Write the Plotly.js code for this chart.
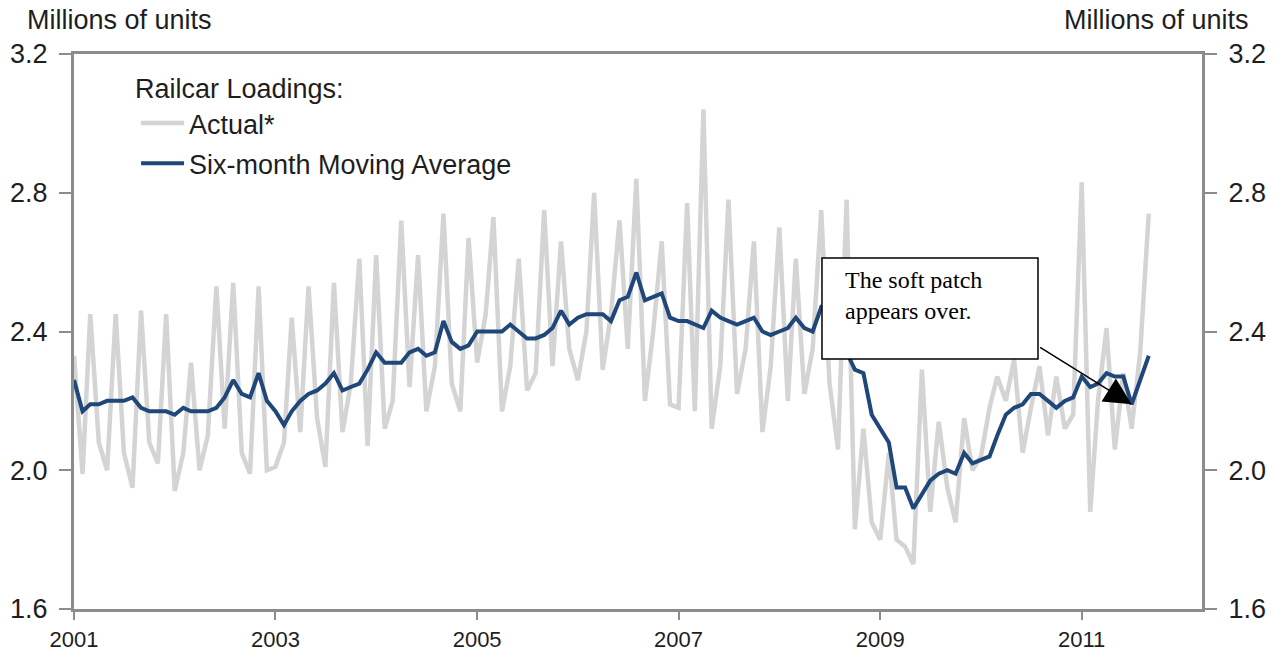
<!DOCTYPE html>
<html>
<head>
<meta charset="utf-8">
<script src="https://cdn.plot.ly/plotly-3.0.1.min.js"></script>
<style>
html,body{margin:0;padding:0;background:#fff;}
#chart{width:1275px;height:655px;}
</style>
</head>
<body>
<div id="chart"></div>
<script>
// Monthly observations, January 2001 onward
const startYear = 2001;
const actual = [
  2.33, 1.99, 2.45, 2.08, 2.00, 2.45, 2.05, 1.95, 2.46, 2.08, 2.02, 2.45,
  1.94, 2.05, 2.31, 2.00, 2.10, 2.53, 2.12, 2.54, 2.05, 1.99, 2.53, 2.00,
  2.01, 2.08, 2.44, 2.11, 2.53, 2.15, 2.01, 2.54, 2.11, 2.25, 2.61, 2.07,
  2.62, 2.12, 2.20, 2.72, 2.24, 2.62, 2.17, 2.30, 2.74, 2.25, 2.17, 2.67,
  2.31, 2.45, 2.73, 2.17, 2.30, 2.61, 2.23, 2.28, 2.75, 2.30, 2.66, 2.35,
  2.26, 2.40, 2.80, 2.29, 2.45, 2.72, 2.35, 2.84, 2.20, 2.40, 2.66, 2.19,
  2.18, 2.77, 2.17, 3.04, 2.12, 2.30, 2.78, 2.22, 2.35, 2.66, 2.11, 2.30,
  2.70, 2.20, 2.61, 2.22, 2.35, 2.75, 2.25, 2.06, 2.78, 1.83, 2.12, 1.85,
  1.80, 2.05, 1.80, 1.78, 1.73, 2.29, 1.88, 2.14, 1.95, 1.85, 2.15, 2.00,
  2.04, 2.18, 2.27, 2.20, 2.32, 2.05, 2.18, 2.30, 2.10, 2.27, 2.12, 2.16,
  2.83, 1.88, 2.20, 2.41, 2.06, 2.28, 2.12, 2.34, 2.74
];
const movingAvg = [
  2.26, 2.17, 2.19, 2.19, 2.20, 2.20, 2.20, 2.21, 2.18, 2.17, 2.17, 2.17,
  2.16, 2.18, 2.17, 2.17, 2.17, 2.18, 2.21, 2.26, 2.22, 2.21, 2.28, 2.20,
  2.17, 2.13, 2.17, 2.20, 2.22, 2.23, 2.25, 2.28, 2.23, 2.24, 2.25, 2.29,
  2.34, 2.31, 2.31, 2.31, 2.34, 2.35, 2.33, 2.34, 2.43, 2.37, 2.35, 2.36,
  2.40, 2.40, 2.40, 2.40, 2.42, 2.40, 2.38, 2.38, 2.39, 2.41, 2.46, 2.42,
  2.44, 2.45, 2.45, 2.45, 2.43, 2.49, 2.50, 2.57, 2.49, 2.50, 2.51, 2.44,
  2.43, 2.43, 2.42, 2.41, 2.46, 2.44, 2.43, 2.42, 2.43, 2.44, 2.40, 2.39,
  2.40, 2.41, 2.44, 2.41, 2.40, 2.47, 2.46, 2.42, 2.34, 2.29, 2.28, 2.16,
  2.12, 2.08, 1.95, 1.95, 1.89, 1.93, 1.97, 1.99, 2.00, 1.99, 2.05, 2.02,
  2.03, 2.04, 2.10, 2.16, 2.18, 2.19, 2.22, 2.22, 2.20, 2.18, 2.20, 2.21,
  2.27, 2.24, 2.25, 2.28, 2.27, 2.27, 2.19, 2.26, 2.33
];
const yTicks = [1.6, 2.0, 2.4, 2.8, 3.2];
const seriesNames = ['Actual*', 'Six-month Moving Average'];
const legendTitle = 'Railcar Loadings:';
const unitLabel = 'Millions of units';
const noteText = 'The soft patch<br>appears over.';
const noteIndex = 126; // month the arrow points at

const dates = actual.map((_, i) => {
  const y = startYear + Math.floor(i / 12);
  const m = (i % 12) + 1;
  return y + '-' + String(m).padStart(2, '0') + '-01';
});

const sans = 'Liberation Sans, Arial, sans-serif';
const serif = 'Liberation Serif, Times New Roman, serif';
const axisGray = '#8c8c8c';
const textCol = '#1e1e1e';

const traces = [
  {x: dates, y: actual, name: seriesNames[0], type: 'scatter', mode: 'lines',
   line: {color: '#d4d4d4', width: 4.5}, legendgroup: 'a', yaxis: 'y'},
  {x: dates, y: movingAvg, name: seriesNames[1], type: 'scatter', mode: 'lines',
   line: {color: '#1f477a', width: 4}, legendgroup: 'b', yaxis: 'y2'}
];

const yCommon = {
  range: [1.6, 3.2], tickvals: yTicks, ticktext: yTicks.map(v => v.toFixed(1)),
  showgrid: false, zeroline: false, showline: true, linecolor: axisGray, linewidth: 3,
  ticks: 'outside', ticklen: 12, tickwidth: 2, tickcolor: axisGray,
  ticklabelstandoff: 6,
  tickfont: {family: sans, size: 27, color: textCol}, fixedrange: true
};

const layout = {
  width: 1275, height: 655,
  margin: {l: 74, r: 73, t: 54, b: 46},
  paper_bgcolor: '#fff', plot_bgcolor: '#fff',
  showlegend: true,
  legend: {
    x: 0.055, y: 0.8387, xanchor: 'left', yanchor: 'middle',
    bgcolor: 'rgba(0,0,0,0)', borderwidth: 0,
    font: {family: sans, size: 27, color: textCol},
    itemwidth: 43, tracegroupgap: 2, traceorder: 'grouped'
  },
  xaxis: {
    type: 'date', range: ['2001-01-01', '2012-03-12'],
    tick0: '2001-01-01', dtick: 'M24', tickformat: '%Y',
    showgrid: false, zeroline: false, showline: true, mirror: true,
    linecolor: axisGray, linewidth: 3,
    ticks: 'outside', ticklen: 8, tickwidth: 2, tickcolor: axisGray,
    ticklabelstandoff: 1,
    tickfont: {family: sans, size: 22, color: textCol}, fixedrange: true
  },
  yaxis: Object.assign({}, yCommon, {side: 'left'}),
  yaxis2: Object.assign({}, yCommon, {side: 'right', overlaying: 'y', anchor: 'x', matches: 'y'}),
  shapes: [
    {type: 'rect', xref: 'paper', yref: 'paper', x0: 0.6631, x1: 0.8546, y0: 0.4505, y1: 0.6324,
     line: {color: '#000', width: 1.5}, fillcolor: '#fff', layer: 'above'}
  ],
  annotations: [
    {xref: 'paper', yref: 'paper', x: -0.0434, y: 1.062, xanchor: 'left', yanchor: 'middle',
     text: unitLabel, showarrow: false, font: {family: sans, size: 27, color: textCol}},
    {xref: 'paper', yref: 'paper', x: 1.043, y: 1.062, xanchor: 'right', yanchor: 'middle',
     text: unitLabel, showarrow: false, font: {family: sans, size: 27, color: textCol}},
    {xref: 'paper', yref: 'paper', x: 0.0523, y: 0.937, xanchor: 'left', yanchor: 'middle',
     text: legendTitle, showarrow: false, font: {family: sans, size: 27, color: textCol}},
    {xref: 'paper', yref: 'paper', x: 0.6817, y: 0.62, xanchor: 'left', yanchor: 'top',
     align: 'left', text: noteText, showarrow: false, font: {family: serif, size: 24, color: '#000'}},
    {x: dates[noteIndex], y: movingAvg[noteIndex], xref: 'x', yref: 'y', text: '',
     showarrow: true, arrowhead: 2, arrowsize: 3.6, arrowwidth: 1.5, arrowcolor: '#000',
     axref: 'pixel', ayref: 'pixel', ax: -93, ay: -58}
  ]
};

Plotly.newPlot('chart', traces, layout, {displayModeBar: false, staticPlot: true});
</script>
</body>
</html>
